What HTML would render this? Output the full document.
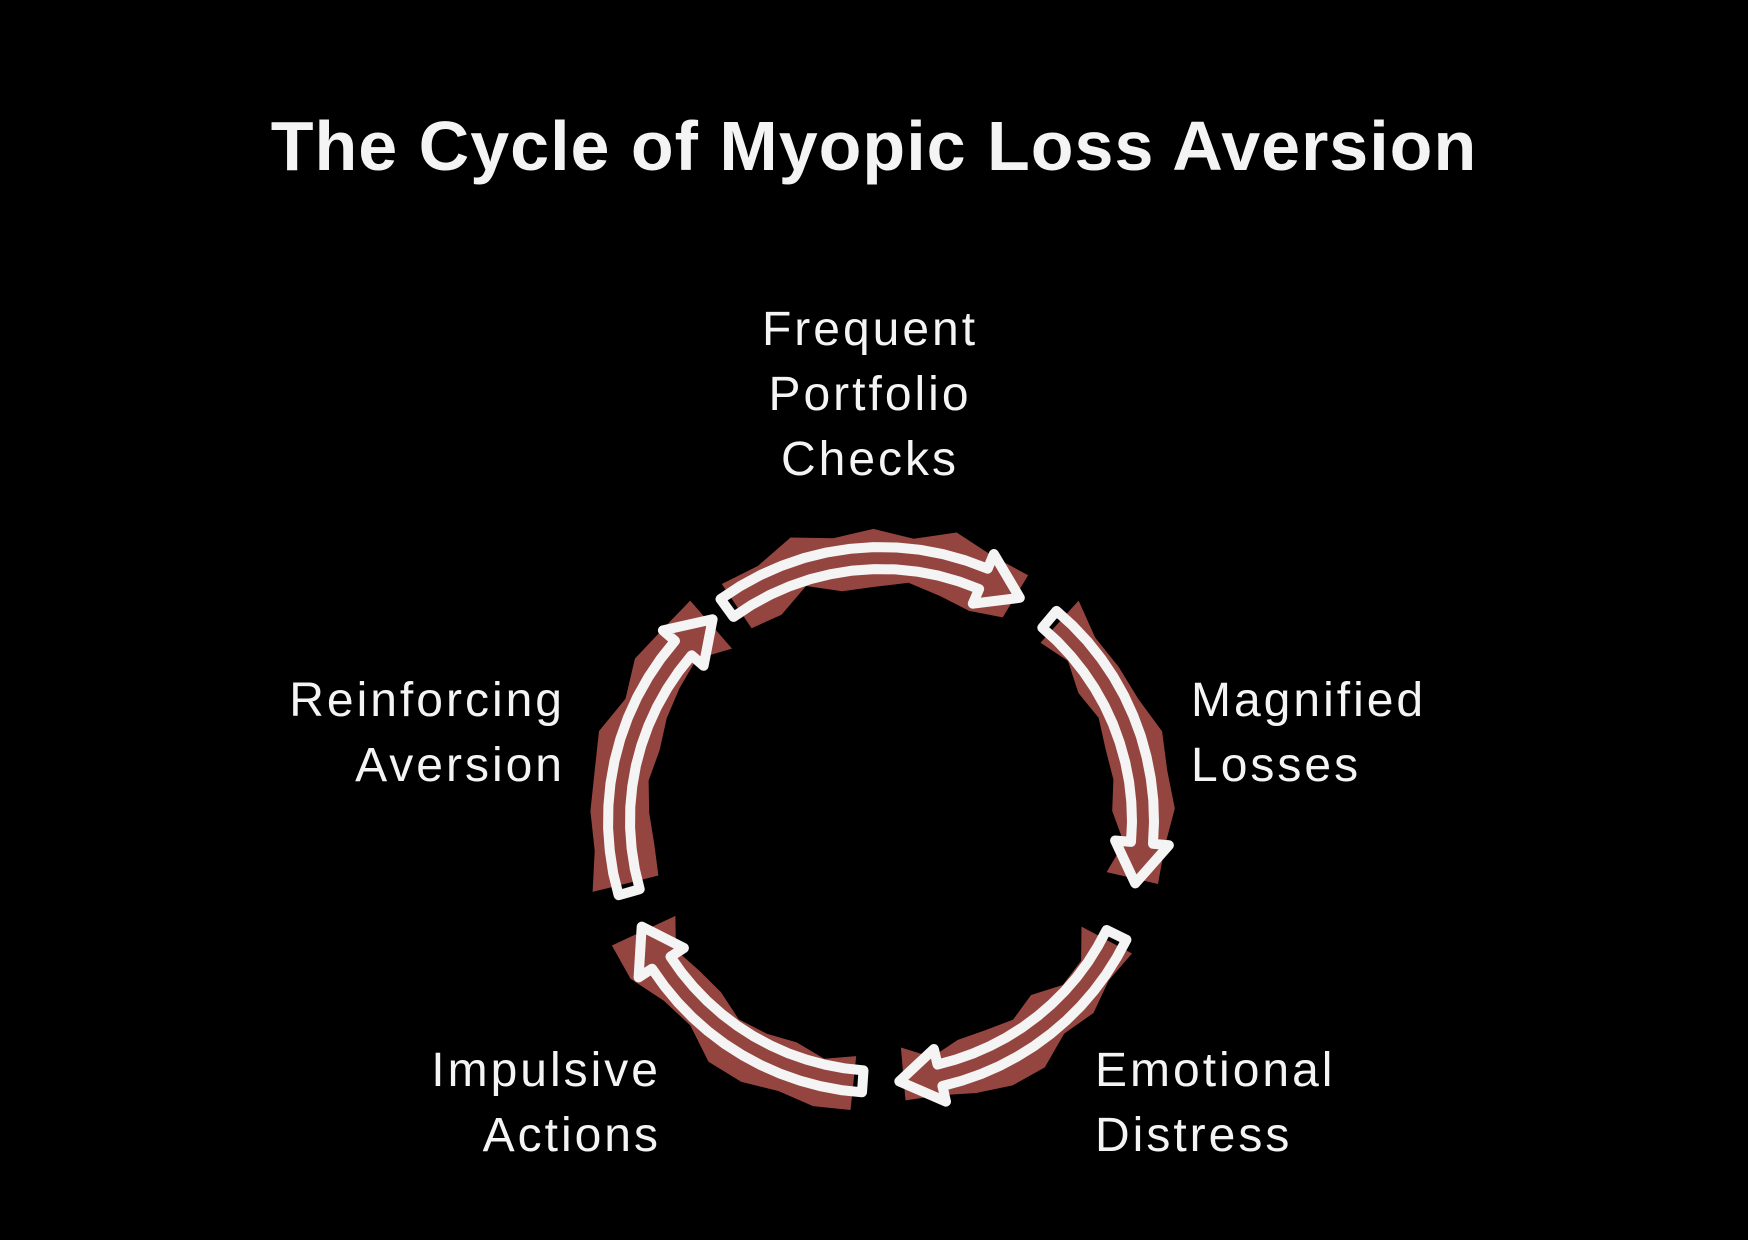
<!DOCTYPE html>
<html><head><meta charset="utf-8"><style>
html,body{margin:0;padding:0;background:#000;}
#c{position:relative;width:1748px;height:1240px;background:#000;overflow:hidden;font-family:"Liberation Sans",sans-serif;color:#f4f4f4;}
.t{position:absolute;white-space:nowrap;font-size:48px;line-height:65px;letter-spacing:3px;}
#title{position:absolute;left:0;width:1748px;top:106px;text-align:center;font-size:70px;font-weight:bold;letter-spacing:1px;}
svg{position:absolute;left:0;top:0;}
</style></head><body><div id="c">
<svg id="s" width="1748" height="1240"></svg>
<div id="title">The Cycle of Myopic Loss Aversion</div>
<div class="t" style="left:670px;width:400px;text-align:center;top:297px;">Frequent<br>Portfolio<br>Checks</div>
<div class="t" style="left:1191px;top:668px;">Magnified<br>Losses</div>
<div class="t" style="right:1183px;top:668px;text-align:right;">Reinforcing<br>Aversion</div>
<div class="t" style="right:1087px;top:1038px;text-align:right;">Impulsive<br>Actions</div>
<div class="t" style="left:1095px;top:1038px;">Emotional<br>Distress</div>
</div>
<script>
var cx=881,cy=820,R=262,s=document.getElementById('s'),h='';
function P(a,r){var t=(a-90)*Math.PI/180;return (cx+r*Math.cos(t)).toFixed(1)+','+(cy+r*Math.sin(t)).toFixed(1);}
var arcs=[[-36,32],[40,104],[116,176],[184,246],[254,320]];
var seed=3;function rnd(){seed=(seed*9301+49297)%233280;return seed/233280;}
arcs.forEach(function(a){
 var a0=a[0]+2,a1=a[1]-1,hd=9,pts=[],i,st=(a1-a0)/8;
 for(i=0;i<=8;i++)pts.push(P(a0+i*st,R+16+rnd()*20));
 for(i=8;i>=0;i--)pts.push(P(a0+i*st,R-16-rnd()*20));
 h+='<polygon points="'+pts.join(' ')+'" fill="#954540"/>';
 a0=a[0];a1=a[1];
 var ab=a1-hd,d='M'+P(a0,R-11);
 for(i=1;i<=12;i++)d+=' L'+P(a0+(ab-a0)*i/12,R-11);
 d+=' L'+P(ab,R-27)+' L'+P(a1,R)+' L'+P(ab,R+27)+' L'+P(ab,R+11);
 for(i=11;i>=0;i--)d+=' L'+P(a0+(ab-a0)*i/12,R+11);
 d+=' Z';
 h+='<path d="'+d+'" fill="none" stroke="#f4f4f4" stroke-width="10" stroke-linejoin="round"/>';
});
s.innerHTML=h;
</script>
</body></html>
